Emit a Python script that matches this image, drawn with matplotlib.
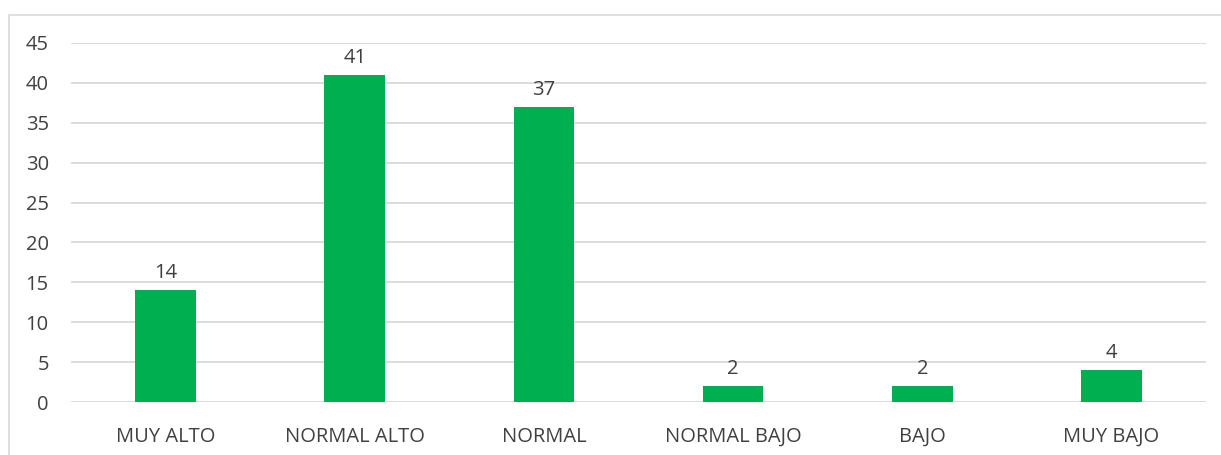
import matplotlib
matplotlib.use("Agg")
import matplotlib.pyplot as plt
from matplotlib.patches import Rectangle

categories = ["MUY ALTO", "NORMAL ALTO", "NORMAL", "NORMAL BAJO", "BAJO", "MUY BAJO"]
values = [14, 41, 37, 2, 2, 4]
yticks = [0, 5, 10, 15, 20, 25, 30, 35, 40, 45]

plt.rcParams['font.family'] = ['Open Sans', 'DejaVu Sans']
text_color = '#404040'

fig = plt.figure(figsize=(12.21, 4.55), dpi=100)
fig.patch.set_facecolor('white')

# outer chart frame
fig.add_artist(Rectangle((9/1221, -0.1), 1.2, 1 - 15/455 + 0.1, transform=fig.transFigure,
                         fill=False, edgecolor='#d9d9d9', linewidth=1.2))

ax = fig.add_axes([71/1221, 1 - 402/455, (1206-71)/1221, (402-43)/455])
x = range(len(categories))
bars = ax.bar(x, values, width=0.32, color='#00B050', zorder=3)
ax.set_xlim(-0.5, len(categories) - 0.5)
ax.set_ylim(0, 45)
ax.set_yticks(yticks)
ax.set_xticks(list(x))
ax.set_xticklabels(categories)
ax.grid(axis='y', color='#d9d9d9', linewidth=1.3, zorder=0)
for s in ax.spines.values():
    s.set_visible(False)
ax.tick_params(axis='both', length=0, labelsize=14.5, colors=text_color)
ax.tick_params(axis='x', pad=18)
ax.tick_params(axis='y', pad=16)
for b, v in zip(bars, values):
    ax.text(b.get_x() + b.get_width()/2, v + 0.9, str(v), ha='center', va='bottom',
            fontsize=14.5, color=text_color, zorder=4)

fig.savefig('out.png', dpi=100)
